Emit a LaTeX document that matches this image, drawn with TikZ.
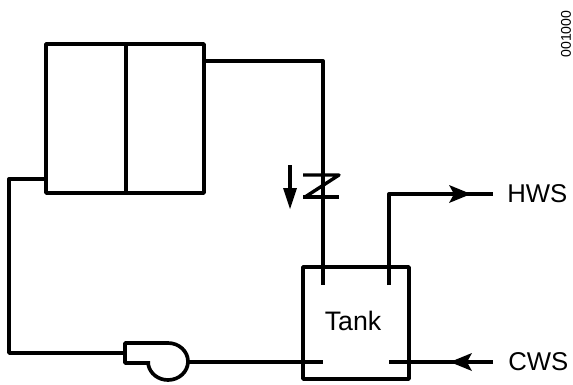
\documentclass[tikz,border=0pt]{standalone}
\usepackage{fontspec}
\setmainfont{Liberation Sans}

\begin{document}
\begin{tikzpicture}[x=0.025cm, y=-0.025cm, line join=round,
    pipe/.style={draw, line width=2.4pt},
    block/.style={draw, line width=2.6pt, rectangle, anchor=north west, inner sep=0pt, outer sep=0pt},
    label/.style={font=\fontsize{18.3}{20}\selectfont, inner sep=0pt, anchor=west},
    tip/.style={fill=black, draw=none}]
    \useasboundingbox (0,0) rectangle (573,384);

    % collector, tank
    \node [block, minimum width=3.95cm, minimum height=3.725cm] (panel) at (46,44) {};
    \node [block, minimum width=2.65cm, minimum height=2.8cm] (tank) at (303,267) {};
    \node [font=\fontsize{19}{20}\selectfont, inner sep=0pt] (tanklabel) at (353,321) {Tank};
    \node [label] (hws) at (507,194) {HWS};
    \node [label] (cws) at (508,362) {CWS};
    \node [rotate=90, font=\fontsize{10}{12}\selectfont, inner sep=0pt] (figno) at (566,34) {001000};

    \coordinate (hotin) at (389,285);
    \coordinate (coldin) at (389,362);
    \coordinate (retin) at (323,285);
    \coordinate (pumpin) at (323,362);
    \coordinate (pumpout) at (188,362);
    \coordinate (suction) at (125,353);
    \coordinate (hotend) at (493,194);
    \coordinate (coldend) at (493,362);

    \draw [block] (126,44) -- (126,193);

    % piping
    \draw [pipe] (204,61) -- (323,61) -- (retin);
    \draw [pipe] (hotin) -- (389,194) -- (hotend);
    \draw [pipe] (coldend) -- (coldin);
    \draw [pipe] (pumpout) -- (pumpin);
    \draw [pipe] (suction) -- (9,353) -- (9,179) -- (46,179);

    % pump
    \draw [block] (150,363) -- (125,363) -- (125,343) -- (168,343) arc (-90:170:20 and 18.5);

    % check valve
    \draw [pipe] (303,175) -- (339,175) -- (305,197);
    \draw [pipe] (303,197) -- (339,197);

    % arrows
    \draw [pipe] (290,165) -- (290,195);
    \fill [tip] (283,188) -- (297,188) -- (290,209) -- cycle;
    \fill [tip] (449,185) -- (471,194) -- (449,203) -- (454,194) -- cycle;
    \fill [tip] (472,353) -- (450,362) -- (472,371) -- (467,362) -- cycle;
\end{tikzpicture}
\end{document}
